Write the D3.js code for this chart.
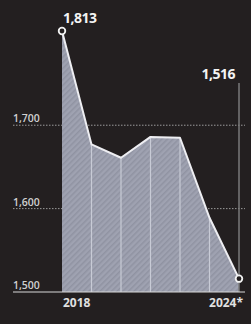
<!DOCTYPE html>
<html>
<head>
<meta charset="UTF-8" />
<script src="https://d3js.org/d3.v7.min.js"></script>
<style>
  html, body { margin: 0; padding: 0; background: #231f20; }
  svg { display: block; }
  text { font-family: "Open Sans", "DejaVu Sans", sans-serif; }
</style>
</head>
<body>
<svg id="chart" width="251" height="324"></svg>
<script>
const years = [2018, 2019, 2020, 2021, 2022, 2023, 2024];
const values = [1813, 1677, 1661, 1686, 1685, 1589, 1516];
const yTicks = [1500, 1600, 1700];
const xLabels = {2018: "2018", 2024: "2024*"};

const svg = d3.select("#chart");
const x = d3.scaleLinear().domain([2018, 2024]).range([62, 239]);
const y = d3.scaleLinear().domain([1500, 1813]).range([292, 31]);

// striped fill
const defs = svg.append("defs");
const pat = defs.append("pattern").attr("id", "stripes")
  .attr("width", 4).attr("height", 4)
  .attr("patternUnits", "userSpaceOnUse")
  .attr("patternTransform", "rotate(45)");
pat.append("rect").attr("width", 4).attr("height", 4).attr("fill", "#9fa2b1");
pat.append("rect").attr("width", 1.5).attr("height", 4).attr("fill", "#9093a2");

// gridlines
svg.append("g").selectAll("line").data(yTicks.slice(1)).join("line")
  .attr("x1", 13).attr("x2", 245)
  .attr("y1", d => y(d)).attr("y2", d => y(d))
  .attr("stroke", "#9a9a9a").attr("stroke-width", 1)
  .attr("stroke-dasharray", "1.5,1.5");

const data = years.map((yr, i) => ({yr, v: values[i]}));

svg.append("path").datum(data)
  .attr("fill", "url(#stripes)")
  .attr("d", d3.area().x(d => x(d.yr)).y0(y(1500)).y1(d => y(d.v)));

// vertical lines inside area
svg.append("g").selectAll("line").data(data.slice(1, -1)).join("line")
  .attr("x1", d => x(d.yr)).attr("x2", d => x(d.yr))
  .attr("y1", d => y(d.v)).attr("y2", y(1500))
  .attr("stroke", "#c8cbd6").attr("stroke-width", 1.2);

// right marker line
svg.append("line")
  .attr("x1", x(2024)).attr("x2", x(2024))
  .attr("y1", 83).attr("y2", y(1500))
  .attr("stroke", "#7a7a7a").attr("stroke-width", 1.5);

// baseline
svg.append("line")
  .attr("x1", 13).attr("x2", 245)
  .attr("y1", y(1500)).attr("y2", y(1500))
  .attr("stroke", "#d8d8d8").attr("stroke-width", 1.2);

svg.append("path").datum(data)
  .attr("fill", "none").attr("stroke", "#eeeef2").attr("stroke-width", 2)
  .attr("stroke-linejoin", "round")
  .attr("d", d3.line().x(d => x(d.yr)).y(d => y(d.v)));

svg.append("g").selectAll("circle").data([data[0], data[data.length - 1]]).join("circle")
  .attr("cx", d => x(d.yr)).attr("cy", d => y(d.v)).attr("r", 3.3)
  .attr("fill", "#231f20").attr("stroke", "#f2f2f2").attr("stroke-width", 1.8);

// y tick labels
svg.append("g").selectAll("text").data(yTicks).join("text")
  .attr("x", 13).attr("y", d => y(d) - 3)
  .attr("fill", "#d0d0d0").attr("font-size", 10.5).attr("font-weight", 600)
  .text(d => d3.format(",")(d));

// x labels
svg.append("text").attr("x", x(2018) + 1).attr("y", 307)
  .attr("fill", "#e0e0e0").attr("font-size", 12).attr("font-weight", 700)
  .text(xLabels[2018]);
svg.append("text").attr("x", x(2024) + 4).attr("y", 307)
  .attr("text-anchor", "end")
  .attr("fill", "#e0e0e0").attr("font-size", 12).attr("font-weight", 700)
  .text(xLabels[2024]);

// value labels
svg.append("text").attr("x", x(2018) + 1).attr("y", 23)
  .attr("fill", "#f4f4f4").attr("font-size", 14).attr("font-weight", 700)
  .attr("letter-spacing", -0.5)
  .text(d3.format(",")(values[0]));
svg.append("text").attr("x", x(2024) - 4).attr("y", 79)
  .attr("text-anchor", "end")
  .attr("fill", "#f4f4f4").attr("font-size", 14).attr("font-weight", 700)
  .attr("letter-spacing", -0.5)
  .text(d3.format(",")(values[values.length - 1]));
</script>
</body>
</html>
